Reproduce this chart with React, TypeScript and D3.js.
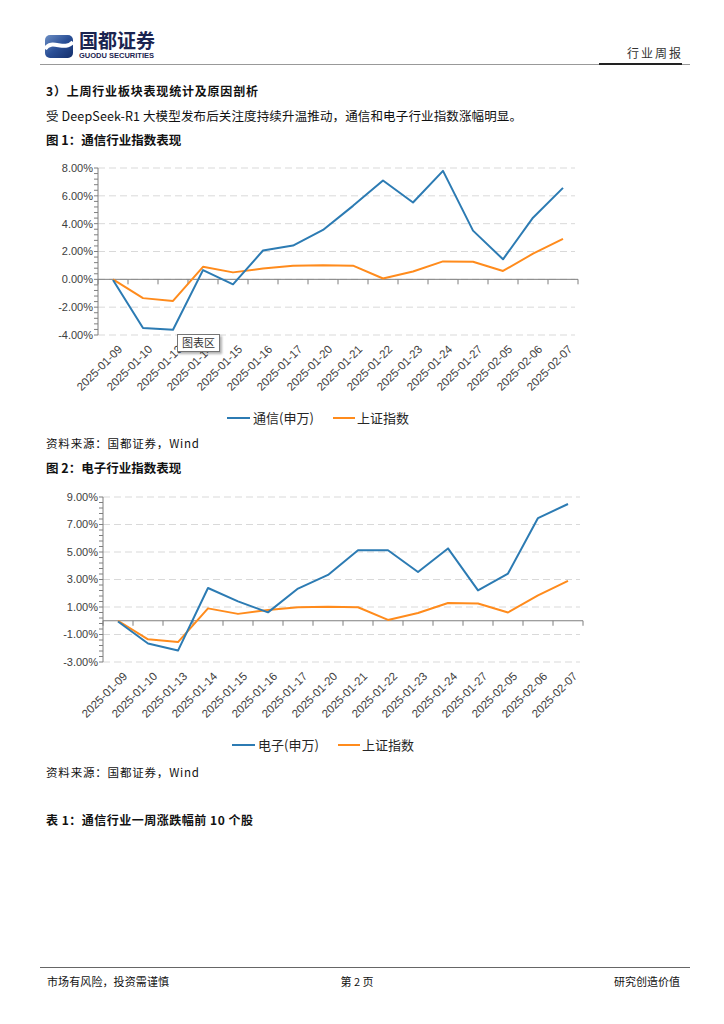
import React from "react";
import * as d3 from "d3";

const dates = [
  "2025-01-09", "2025-01-10", "2025-01-13", "2025-01-14", "2025-01-15", "2025-01-16",
  "2025-01-17", "2025-01-20", "2025-01-21", "2025-01-22", "2025-01-23", "2025-01-24",
  "2025-01-27", "2025-02-05", "2025-02-06", "2025-02-07",
];
const telecom = [-0.05, -3.5, -3.62, 0.66, -0.36, 2.07, 2.43, 3.55, 5.28, 7.1, 5.52, 7.79, 3.5, 1.44, 4.43, 6.57];
const electronics = [-0.05, -1.65, -2.17, 2.38, 1.41, 0.61, 2.34, 3.33, 5.13, 5.13, 3.55, 5.26, 2.21, 3.43, 7.47, 8.49];
const shIndex = [0, -1.35, -1.55, 0.9, 0.5, 0.78, 0.98, 1.02, 0.98, 0.06, 0.56, 1.29, 1.26, 0.6, 1.84, 2.9];
const ticks1 = [-4, -2, 0, 2, 4, 6, 8];
const ticks2 = [-3, -1, 1, 3, 5, 7, 9];
const seriesName1 = "通信(申万)";
const seriesName2 = "电子(申万)";
const indexName = "上证指数";

const BLUE = "#2c7bb3";
const ORANGE = "#ff8b1c";
const AXIS = "#7f7f7f";
const LABEL = "#404040";
const CJK = "'Noto Sans CJK SC', sans-serif";
const LAT = "'Liberation Sans', Arial, sans-serif";

type ChartProps = {
  values: number[];
  name: string;
  ticks: number[];
  x0: number;
  x1: number;
  yTop: number;
  yBottom: number;
  legendY: number;
  legendX: number;
};

function LineChart({ values, name, ticks, x0, x1, yTop, yBottom, legendY, legendX }: ChartProps) {
  const x = d3.scaleBand<string>().domain(dates).range([x0, x1]).padding(0);
  const y = d3.scaleLinear().domain([ticks[0], ticks[ticks.length - 1]]).range([yBottom, yTop]);
  const cx = (d: string) => (x(d) as number) + x.bandwidth() / 2;
  const line = d3
    .line<number>()
    .x((_, i) => cx(dates[i]))
    .y((v) => y(v));
  const minor = d3.range(ticks[0], ticks[ticks.length - 1] + 0.001, 0.4);
  const boundaries = dates.map((d) => x(d) as number).concat([x1]);
  return (
    <g>
      {ticks.map((t) => (
        <line key={"g" + t} x1={x0} x2={x1 - 3} y1={y(t)} y2={y(t)} stroke="#d9d9d9" strokeWidth={1} strokeDasharray="7,4" />
      ))}
      {minor.map((t, i) => (
        <line key={"m" + i} x1={x0 - 4} x2={x0} y1={y(t)} y2={y(t)} stroke={AXIS} strokeWidth={1} />
      ))}
      <line x1={x0} x2={x0} y1={yTop} y2={yBottom} stroke={AXIS} strokeWidth={1} />
      <line x1={x0} x2={x1} y1={y(0)} y2={y(0)} stroke={AXIS} strokeWidth={1} />
      {boundaries.map((b, i) => (
        <line key={"b" + i} x1={b} x2={b} y1={y(0)} y2={y(0) + 5} stroke={AXIS} strokeWidth={1} />
      ))}
      {ticks.map((t) => (
        <text key={"t" + t} x={x0 - 5} y={y(t)} dy="0.35em" textAnchor="end" fontFamily={LAT} fontSize={11} fill={LABEL}>
          {t.toFixed(2) + "%"}
        </text>
      ))}
      {dates.map((d) => (
        <text
          key={"x" + d}
          transform={`translate(${cx(d) + 10},${yBottom + 15}) rotate(-45)`}
          textAnchor="end"
          fontFamily={LAT}
          fontSize={11.5}
          fill={LABEL}
        >
          {d}
        </text>
      ))}
      <path d={line(shIndex) || ""} fill="none" stroke={ORANGE} strokeWidth={2} strokeLinejoin="round" />
      <path d={line(values) || ""} fill="none" stroke={BLUE} strokeWidth={2} strokeLinejoin="round" />
      <g transform={`translate(${legendX},${legendY})`}>
        <line x1={0} x2={23} y1={0} y2={0} stroke={BLUE} strokeWidth={2} />
        <text x={26} y={0} dy="0.35em" fontFamily={CJK} fontSize={13} fill="#262626">{name}</text>
        <line x1={106} x2={128} y1={0} y2={0} stroke={ORANGE} strokeWidth={2} />
        <text x={130} y={0} dy="0.35em" fontFamily={CJK} fontSize={13} fill="#262626">{indexName}</text>
      </g>
    </g>
  );
}

export default function App() {
  const body = { fontFamily: CJK, fill: "#111" };
  return (
    <div style={{ position: "absolute", left: 0, top: 0 }}>
      <svg width={724} height={1024} viewBox="0 0 724 1024" style={{ display: "block", background: "#fff" }}>
        <defs>
          <linearGradient id="lg" x1="0" y1="0" x2="1" y2="1">
            <stop offset="0" stopColor="#6d8fc4" />
            <stop offset="0.5" stopColor="#2a4f96" />
            <stop offset="1" stopColor="#142e6b" />
          </linearGradient>
          <filter id="sh" x="-20%" y="-20%" width="150%" height="160%">
            <feDropShadow dx="2" dy="2" stdDeviation="1.2" floodColor="#000" floodOpacity="0.3" />
          </filter>
        </defs>
        <rect x={0} y={0} width={724} height={1024} fill="#fff" />
        {/* header */}
        <rect x={45} y={35} width={28} height={23} rx={5} fill="url(#lg)" />
        <path d="M45,49 C52,38 64,52 73,42" fill="none" stroke="#fff" strokeWidth={4} />
        <text x={79} y={48} fontFamily={CJK} fontWeight={700} fontSize={19} fill="#1b2450">国都证券</text>
        <text x={79} y={58} fontFamily={LAT} fontWeight={700} fontSize={7.6} fill="#1b2450" textLength={75} lengthAdjust="spacingAndGlyphs">GUODU SECURITIES</text>
        <text x={683} y={58} textAnchor="end" fontFamily={CJK} fontSize={12} fill="#333" letterSpacing={2}>行业周报</text>
        <line x1={40} x2={690} y1={64.5} y2={64.5} stroke="#999" strokeWidth={1} />
        <line x1={599} x2={682} y1={64} y2={64} stroke="#222" strokeWidth={2} />

        <text x={46} y={96} {...body} fontWeight={700} fontSize={12} textLength={212} lengthAdjust="spacing">3）上周行业板块表现统计及原因剖析</text>
        <text x={46} y={121} {...body} fontSize={12.5} textLength={476} lengthAdjust="spacing">受 DeepSeek-R1 大模型发布后关注度持续升温推动，通信和电子行业指数涨幅明显。</text>
        <text x={46} y={145} {...body} fontWeight={700} fontSize={12.5}>图 1：通信行业指数表现</text>

        <LineChart values={telecom} name={seriesName1} ticks={ticks1} x0={98} x1={578} yTop={168} yBottom={335} legendX={227} legendY={418} />

        {/* Excel tooltip artifact */}
        <g filter="url(#sh)">
          <rect x={177.5} y={334.5} width={42} height={17} fill="#fff" stroke="#767676" strokeWidth={1} />
        </g>
        <text x={198.5} y={343} dy="0.35em" textAnchor="middle" fontFamily={CJK} fontSize={11} fill="#333">图表区</text>

        <text x={46} y={448} {...body} fontSize={11.5} textLength={153} lengthAdjust="spacing">资料来源：国都证券，Wind</text>
        <text x={46} y={473} {...body} fontWeight={700} fontSize={12.5}>图 2：电子行业指数表现</text>

        <LineChart values={electronics} name={seriesName2} ticks={ticks2} x0={103} x1={583} yTop={497} yBottom={662} legendX={232} legendY={745} />

        <text x={46} y={777} {...body} fontSize={11.5} textLength={153} lengthAdjust="spacing">资料来源：国都证券，Wind</text>
        <text x={46} y={825} {...body} fontWeight={700} fontSize={12} textLength={207} lengthAdjust="spacing">表 1：通信行业一周涨跌幅前 10 个股</text>

        {/* footer */}
        <line x1={40} x2={690} y1={967.5} y2={967.5} stroke="#666" strokeWidth={1} />
        <text x={47} y={986} {...body} fontSize={11} textLength={122} lengthAdjust="spacing">市场有风险，投资需谨慎</text>
        <text x={357} y={986} textAnchor="middle" {...body} fontSize={11}>第 2 页</text>
        <text x={680} y={986} textAnchor="end" {...body} fontSize={11}>研究创造价值</text>
      </svg>
    </div>
  );
}
